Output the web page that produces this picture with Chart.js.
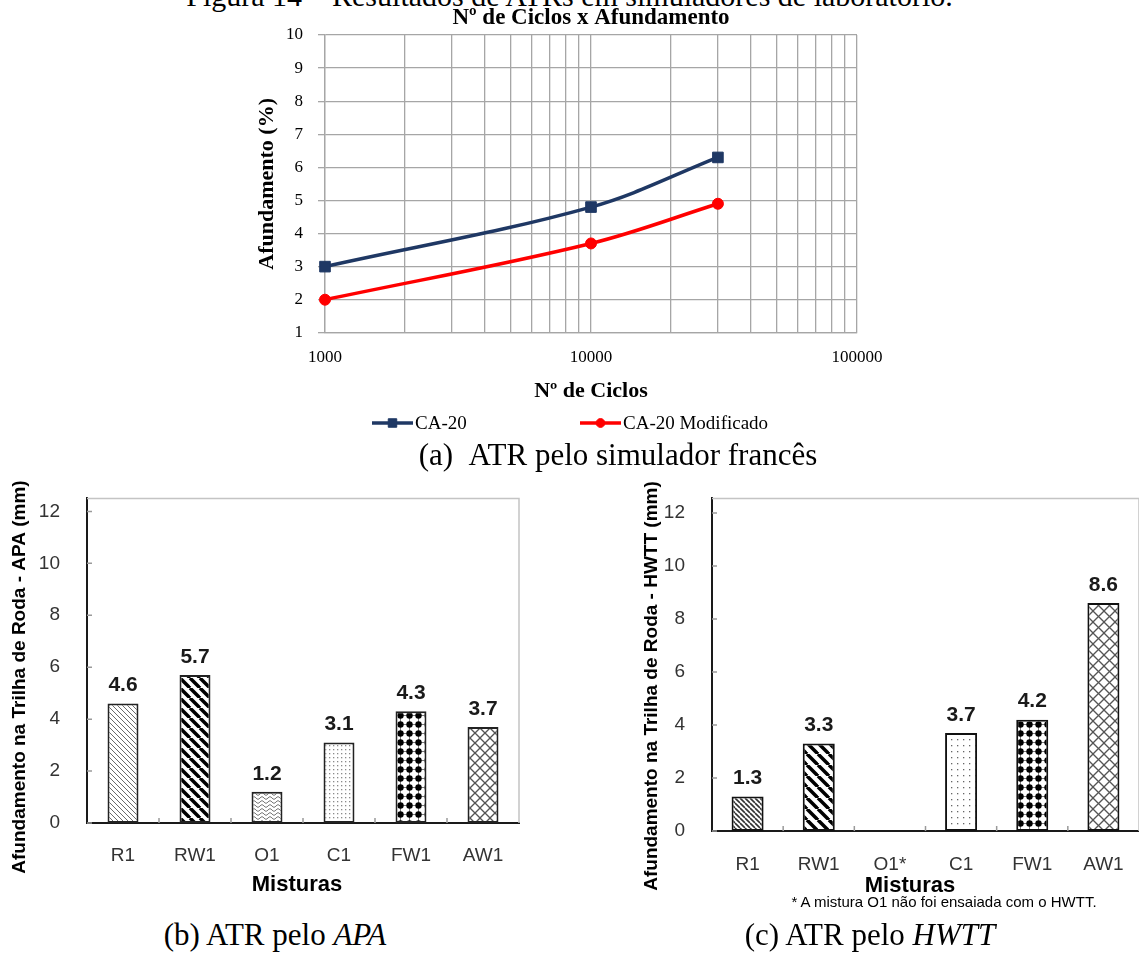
<!DOCTYPE html>
<html lang="pt">
<head>
<meta charset="utf-8">
<title>Afundamento em trilha de roda</title>
<script src="https://cdn.jsdelivr.net/npm/chart.js@4.4.1/dist/chart.umd.min.js"></script>
<style>
  html, body { margin: 0; padding: 0; background: #fff; }
  #page { position: relative; width: 1139px; height: 958px; overflow: hidden; background: #fff; }
  canvas { position: absolute; }
  .txt { position: absolute; white-space: nowrap; color: #000; text-align: center; }
  .serif { font-family: "Liberation Serif", "Times New Roman", serif; }
  #figTitle { left: 0; width: 1139px; top: -19px; font-size: 30px; line-height: 30px; }
  #capA { left: 318px; width: 600px; top: 440px; font-size: 31px; line-height: 30px; }
  #capB { left: 75px; width: 400px; top: 920px; font-size: 31px; line-height: 30px; }
  #capC { left: 670px; width: 400px; top: 920px; font-size: 31px; line-height: 30px; }
  #note { left: 744px; width: 400px; top: 894px; font-size: 15px; line-height: 16px;
          font-family: "Liberation Sans Narrow", "Liberation Sans", Arial, sans-serif; }
</style>
</head>
<body>
<div id="page">
  <div id="figTitle" class="txt serif">Figura 14 – Resultados de ATRs em simuladores de laboratório.</div>
  <canvas id="chartA" width="688" height="440" style="left:240px;top:0px"></canvas>
  <div id="capA" class="txt serif">(a)&nbsp;&nbsp;ATR pelo simulador francês</div>
  <canvas id="chartB" width="560" height="430" style="left:0px;top:468px"></canvas>
  <canvas id="chartC" width="519" height="432" style="left:620px;top:468px"></canvas>
  <div id="note" class="txt">* A mistura O1 não foi ensaiada com o HWTT.</div>
  <div id="capB" class="txt serif">(b) ATR pelo <i>APA</i></div>
  <div id="capC" class="txt serif">(c) ATR pelo <i>HWTT</i></div>
</div>
<script>
// simulador francês: afundamento (%) por número de ciclos
const cycles = [1000, 10000, 30000];
const ca20 = [3.0, 4.8, 6.3];
const ca20Mod = [2.0, 3.7, 4.9];
const cycleLabels = [1000, 10000, 100000];

// APA e HWTT: afundamento (mm) por mistura
const mixes = ["R1", "RW1", "O1", "C1", "FW1", "AW1"];
const apaDepth = [4.6, 5.7, 1.2, 3.1, 4.3, 3.7];
const hwttMixes = ["R1", "RW1", "O1*", "C1", "FW1", "AW1"];
const hwttDepth = [1.3, 3.3, null, 3.7, 4.2, 8.6];
const depthTicks = [0, 2, 4, 6, 8, 10, 12];

const SERIF = "'Liberation Serif', 'Times New Roman', serif";
const SANS = "'Liberation Sans', Arial, sans-serif";
const gridGray = "#a6a6a6";

// log grid: 1..9 in every decade
const cycleGrid = [];
for (let d = 1000; d < 100000; d *= 10) {
  for (let m = 1; m < 10; m++) cycleGrid.push(d * m);
}
cycleGrid.push(100000);

// ---------- plugins ----------
const lineLegend = {
  id: "lineLegend",
  afterDraw(chart, args, o) {
    const ctx = chart.ctx;
    ctx.save();
    chart.data.datasets.forEach((ds, i) => {
      const x0 = o.starts[i], y = o.y, len = o.lineLength;
      ctx.strokeStyle = ds.borderColor;
      ctx.fillStyle = ds.backgroundColor;
      ctx.lineWidth = ds.borderWidth;
      ctx.beginPath();
      ctx.moveTo(x0, y);
      ctx.lineTo(x0 + len, y);
      ctx.stroke();
      ctx.lineWidth = 1;
      Chart.helpers.drawPoint(ctx, { pointStyle: ds.pointStyle, radius: ds.pointRadius * 0.8, borderWidth: 1, rotation: 0 }, x0 + len / 2, y);
      ctx.fillStyle = "#000";
      ctx.font = o.textFont;
      ctx.textBaseline = "middle";
      ctx.textAlign = "left";
      ctx.fillText(ds.label, x0 + len + 2, y + 1);
    });
    ctx.restore();
  }
};

// axis titles placed by hand (the y title hangs below the plot)
const freeText = {
  id: "freeText",
  afterDraw(chart, args, o) {
    const ctx = chart.ctx;
    o.items.forEach((t) => {
      ctx.save();
      ctx.translate(t.x, t.y);
      if (t.vertical) ctx.rotate(-Math.PI / 2);
      ctx.font = t.textFont;
      ctx.fillStyle = "#000";
      ctx.textAlign = "center";
      ctx.textBaseline = "middle";
      ctx.fillText(t.text, 0, 0);
      ctx.restore();
    });
  }
};

const plotFrame = {
  id: "plotFrame",
  beforeDatasetsDraw(chart, args, o) {
    const { ctx, chartArea: a } = chart;
    ctx.save();
    ctx.strokeStyle = o.color;
    ctx.lineWidth = o.width;
    ctx.beginPath();
    ctx.moveTo(a.left, a.top);
    ctx.lineTo(a.right, a.top);
    ctx.lineTo(a.right, a.bottom);
    ctx.stroke();
    ctx.restore();
  }
};

// short tick marks pointing into the plot
const innerTicks = {
  id: "innerTicks",
  beforeDatasetsDraw(chart, args, o) {
    const { ctx, chartArea: a, scales: { x, y } } = chart;
    const n = chart.data.labels.length;
    ctx.save();
    ctx.strokeStyle = o.color;
    ctx.lineWidth = o.width;
    ctx.beginPath();
    for (let i = 1; i < n; i++) {
      const px = (x.getPixelForValue(i - 1) + x.getPixelForValue(i)) / 2;
      ctx.moveTo(px, a.bottom);
      ctx.lineTo(px, a.bottom - o.length);
    }
    depthTicks.forEach((v) => {
      const py = y.getPixelForValue(v);
      ctx.moveTo(a.left, py);
      ctx.lineTo(a.left + o.length, py);
    });
    ctx.stroke();
    ctx.restore();
  }
};

const valueLabels = {
  id: "valueLabels",
  afterDatasetsDraw(chart, args, o) {
    const ctx = chart.ctx;
    const values = chart.data.datasets[0].data;
    ctx.save();
    ctx.font = o.textFont;
    ctx.fillStyle = o.color;
    ctx.textAlign = "center";
    ctx.textBaseline = "middle";
    chart.getDatasetMeta(0).data.forEach((bar, i) => {
      if (values[i] == null) return;
      ctx.fillText(values[i].toFixed(1), bar.x, bar.y - o.offset);
    });
    ctx.restore();
  }
};

// ---------- bar fills ----------
function tile(size, draw) {
  const c = document.createElement("canvas");
  c.width = c.height = size;
  const g = c.getContext("2d");
  g.fillStyle = "#fff";
  g.fillRect(0, 0, size, size);
  draw(g, size);
  return g.createPattern(c, "repeat");
}
function back(g, s, color, w) {   // "\" lines
  g.strokeStyle = color; g.lineWidth = w;
  for (const k of [-s, 0, s]) { g.beginPath(); g.moveTo(k, 0); g.lineTo(k + s, s); g.stroke(); }
}
function fwd(g, s, color, w) {    // "/" lines
  g.strokeStyle = color; g.lineWidth = w;
  for (const k of [-s, 0, s]) { g.beginPath(); g.moveTo(k + s, 0); g.lineTo(k, s); g.stroke(); }
}
const fillHatch = (s, c, w) => tile(s, (g, n) => back(g, n, c, w));
const fillWave = tile(8, (g, s) => {
  g.strokeStyle = "#777"; g.lineWidth = 1;
  for (let y0 = 2; y0 < s; y0 += 4) {
    g.beginPath();
    for (let x = 0; x <= s; x++) g.lineTo(x, y0 + Math.sin(x / s * 2 * Math.PI) * 1.3);
    g.stroke();
  }
});
const fillDots = (s, c) => tile(s, (g) => { g.fillStyle = c; g.fillRect(1, 1, 1.3, 1.3); });
const fillBigDots = tile(9, (g, s) => {
  g.strokeStyle = "#777"; g.lineWidth = 1;
  g.beginPath(); g.moveTo(0, 4.5); g.lineTo(s, 4.5); g.moveTo(4.5, 0); g.lineTo(4.5, s); g.stroke();
  g.fillStyle = "#000";
  g.beginPath(); g.arc(4.5, 4.5, 3.2, 0, 2 * Math.PI); g.fill();
});
const fillLattice = (s) => tile(s, (g, n) => { back(g, n, "#555", 1.3); fwd(g, n, "#555", 1.3); });

const apaFills = [fillHatch(5, "#6a6a6a", 1), fillHatch(10, "#000", 3.5), fillWave,
                  fillDots(4, "#8a8a8a"), fillBigDots, fillLattice(10)];
const hwttFills = [fillHatch(5, "#333", 1.6), fillHatch(11, "#000", 3.5), fillWave,
                   fillDots(6, "#666"), fillBigDots, fillLattice(11)];

// ---------- (a) nº de ciclos x afundamento ----------
new Chart(document.getElementById("chartA"), {
  type: "line",
  data: {
    datasets: [
      {
        label: "CA-20",
        data: cycles.map((c, i) => ({ x: c, y: ca20[i] })),
        borderColor: "#1f3864", backgroundColor: "#1f3864",
        borderWidth: 3.5, pointStyle: "rect", pointRadius: 7.5, pointBorderWidth: 1,
        tension: 0.35, clip: false
      },
      {
        label: "CA-20 Modificado",
        data: cycles.map((c, i) => ({ x: c, y: ca20Mod[i] })),
        borderColor: "#ff0000", backgroundColor: "#ff0000",
        borderWidth: 3.5, pointStyle: "circle", pointRadius: 5.5, pointBorderWidth: 1,
        tension: 0.35, clip: false
      }
    ]
  },
  options: {
    responsive: false,
    animation: false,
    devicePixelRatio: 1,
    layout: { padding: { top: 0, right: 71, bottom: 33, left: 0 } },
    plugins: {
      legend: { display: false },
      tooltip: { enabled: false },
      title: {
        display: true, fullSize: false, text: "Nº de Ciclos x Afundamento", color: "#000",
        font: { family: SERIF, size: 23, weight: "bold" }, padding: { top: 4, bottom: 3.4 }
      },
      lineLegend: { y: 423, starts: [132, 340], lineLength: 41, textFont: "19px " + SERIF }
    },
    scales: {
      x: {
        type: "logarithmic", min: 1000, max: 100000,
        afterBuildTicks: (s) => { s.ticks = cycleGrid.map((v) => ({ value: v })); },
        afterFit: (s) => { s.height = 74.2; },
        grid: { color: gridGray, lineWidth: 1.3, drawTicks: false },
        border: { color: gridGray, width: 1.3 },
        ticks: {
          autoSkip: false, maxRotation: 0, padding: 15, color: "#000",
          font: { family: SERIF, size: 17 },
          callback: (v) => (cycleLabels.includes(v) ? String(v) : "")
        },
        title: {
          display: true, text: "Nº de Ciclos", color: "#000",
          font: { family: SERIF, size: 22, weight: "bold" }, padding: { top: 0, bottom: 2 }
        }
      },
      y: {
        min: 1, max: 10,
        afterFit: (s) => { s.width = 85; },
        grid: { color: gridGray, lineWidth: 1.3, tickLength: 7 },
        border: { color: gridGray, width: 1.3 },
        ticks: { stepSize: 1, padding: 15, color: "#000", font: { family: SERIF, size: 17 } },
        title: {
          display: true, text: "Afundamento (%)", color: "#000",
          font: { family: SERIF, size: 22, weight: "bold" }, padding: { top: 13.8, bottom: 0 }
        }
      }
    }
  },
  plugins: [lineLegend]
});

// ---------- (b) e (c) barras por mistura ----------
function barChart(id, labels, values, fills, o) {
  return new Chart(document.getElementById(id), {
    type: "bar",
    data: {
      labels: labels,
      datasets: [{
        data: values,
        backgroundColor: fills,
        borderColor: o.barBorder,
        borderWidth: 2,
        borderSkipped: false,
        categoryPercentage: 1,
        barPercentage: o.barPct
      }]
    },
    options: {
      responsive: false,
      animation: false,
      devicePixelRatio: 1,
      layout: { padding: { top: 12, right: o.padRight, bottom: 0, left: 0 } },
      plugins: {
        legend: { display: false },
        tooltip: { enabled: false },
        freeText: {
          items: [
            { text: o.yTitle, x: o.yTitleX, y: o.yTitleY, vertical: true, textFont: "bold 19px " + SANS },
            { text: "Misturas", x: o.xTitleX, y: o.xTitleY, vertical: false, textFont: "bold 22px " + SANS }
          ]
        },
        plotFrame: { color: "#c4c4c4", width: 1.5 },
        innerTicks: { color: "#9a9a9a", width: 1.5, length: 5 },
        valueLabels: { offset: 18, color: "#1a1a1a", textFont: "bold 21px " + SANS }
      },
      scales: {
        x: {
          afterFit: (s) => { s.height = o.xHeight; },
          grid: { display: false },
          border: { color: "#1a1a1a", width: 2 },
          ticks: { padding: o.xPad, color: "#333", font: { family: SANS, size: 19 } }
        },
        y: {
          min: 0, max: o.yMax,
          afterBuildTicks: (s) => { s.ticks = depthTicks.map((v) => ({ value: v })); },
          afterFit: (s) => { s.width = o.yWidth; },
          grid: { display: false },
          border: { color: "#1a1a1a", width: 2 },
          ticks: { padding: 19, color: "#333", font: { family: SANS, size: 19 } }
        }
      }
    },
    plugins: [freeText, plotFrame, innerTicks, valueLabels]
  });
}

barChart("chartB", mixes, apaDepth, apaFills, {
  barBorder: "#222", barPct: 0.43, padRight: 41, xHeight: 75, xPad: 13,
  yMax: 12.5, yWidth: 87, yTitle: "Afundamento na Trilha de Roda - APA (mm)", yTitleX: 20, yTitleY: 209,
  xTitleX: 297, xTitleY: 417
});

barChart("chartC", hwttMixes, hwttDepth, hwttFills, {
  barBorder: "#111", barPct: 0.45, padRight: 0, xHeight: 69, xPad: 14.6,
  yMax: 12.55, yWidth: 92, yTitle: "Afundamento na Trilha de Roda - HWTT (mm)", yTitleX: 32, yTitleY: 218,
  xTitleX: 290, xTitleY: 418
});
</script>
</body>
</html>
